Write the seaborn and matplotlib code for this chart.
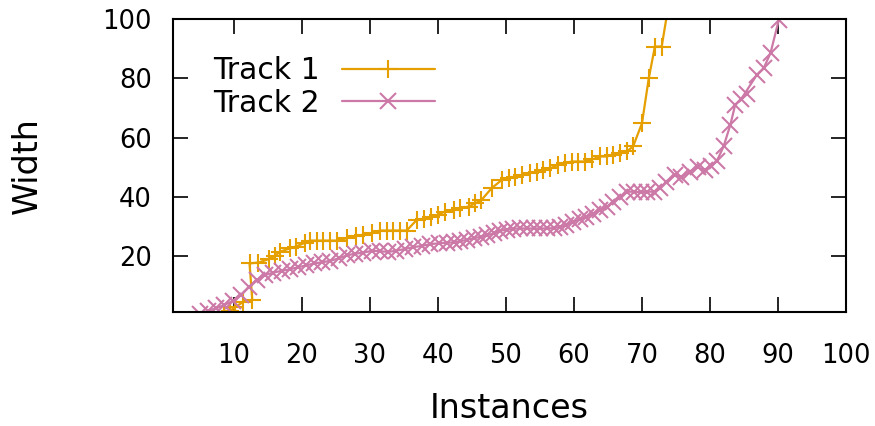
import numpy as np
import pandas as pd
import matplotlib
matplotlib.use("Agg")
import matplotlib.pyplot as plt
import seaborn as sns

# ---- data ----
track1_x = [8.5, 9.4, 10.2, 11.4, 12.7, 12.3, 13.6, 15.1, 16.0, 16.8, 18.3, 19.1, 20.5,
            21.2, 22.2, 23.1, 24.1, 25.1, 26.6, 28.0, 29.0, 30.3, 31.5, 32.5, 33.4, 34.4,
            35.4, 36.9, 37.9, 39.0, 40.0, 41.0, 42.3, 43.3, 44.5, 45.5, 46.4, 47.9, 49.4,
            50.4, 51.3, 52.4, 53.5, 54.5, 55.5, 56.5, 57.7, 58.7, 59.7, 60.6, 61.6, 62.7,
            63.8, 64.8, 65.8, 66.8, 67.8, 68.7, 70.0, 71.0, 71.9, 72.9, 74.0]
track1_y = [0.5, 1.5, 2.7, 4.6, 5.2, 17.5, 17.8, 18.9, 20.0, 21.5, 22.6, 23.2, 24.5,
            25.2, 25.2, 25.2, 25.2, 25.2, 26.0, 26.8, 27.2, 27.7, 28.6, 28.6, 28.6, 28.6,
            28.6, 32.2, 32.6, 33.2, 33.9, 35.0, 35.6, 36.1, 36.7, 37.8, 38.9, 42.9, 45.7,
            46.3, 46.8, 47.4, 48.0, 48.5, 49.1, 49.6, 50.8, 51.3, 51.9, 51.9, 51.9, 52.6,
            53.6, 53.6, 54.2, 54.8, 55.3, 57.0, 64.8, 80.0, 90.7, 90.7, 106.0]

track2_x = [5.0, 6.2, 7.4, 8.6, 9.8, 11.0, 12.2, 13.4, 14.6, 15.8, 17.0, 18.2, 19.4,
            20.6, 21.8, 23.0, 24.2, 25.4, 26.6, 27.8, 29.0, 30.3, 31.5, 32.7, 33.9, 35.2,
            36.4, 37.6, 38.9, 40.1, 41.3, 42.3, 43.3, 44.3, 45.3, 46.3, 47.2, 48.2, 49.1,
            50.1, 51.1, 52.1, 53.1, 54.1, 55.0, 56.0, 57.0, 58.0, 58.9, 59.9, 60.9, 61.8,
            62.8, 63.8, 64.8, 65.8, 66.8, 67.8, 68.8, 69.8, 70.8, 71.7, 72.7, 73.6, 74.8,
            75.8, 77.0, 78.2, 79.2, 80.2, 81.0, 82.0, 83.0, 83.7, 85.4, 84.6, 86.9, 87.9,
            88.9, 90.1]
track2_y = [0.5, 1.5, 2.4, 3.5, 4.8, 6.8, 9.6, 11.9, 13.6, 14.4, 15.0, 15.5, 16.2,
            16.8, 17.5, 17.9, 18.4, 19.2, 20.2, 20.8, 21.1, 21.8, 21.6, 21.4, 21.8, 22.4,
            23.0, 23.4, 24.0, 24.3, 24.5, 24.6, 25.0, 25.5, 26.0, 26.5, 27.0, 27.6, 28.6,
            28.8, 29.2, 29.3, 29.3, 29.3, 29.3, 29.3, 29.4, 29.9, 30.5, 31.6, 32.4, 33.2,
            34.3, 35.4, 36.6, 38.2, 39.8, 41.7, 41.7, 41.5, 41.7, 41.7, 42.8, 44.9, 47.5,
            46.6, 48.5, 50.0, 48.9, 50.5, 52.0, 57.0, 64.3, 71.0, 74.6, 73.0, 81.2, 83.4,
            88.5, 99.5]

labels = ["Track 1", "Track 2"]
x_ticks = list(range(10, 101, 10))
y_ticks = list(range(20, 101, 20))
x_label = "Instances"
y_label = "Width"

df1 = pd.DataFrame({"Instances": track1_x, "Width": track1_y})
df2 = pd.DataFrame({"Instances": track2_x, "Width": track2_y})

sns.set_theme(style="ticks")
plt.rcParams["font.family"] = ["DejaVu Sans"]
plt.rcParams["text.color"] = "black"
plt.rcParams["axes.labelcolor"] = "black"

fig = plt.figure(figsize=(8.75, 4.26), dpi=100)
ax = fig.add_axes([172.7 / 875, 1 - 312.3 / 426, (846 - 172.7) / 875, (312.3 - 19) / 426])

c1 = "#e69f00"
c2 = "#cc79a7"
sns.lineplot(data=df1, x="Instances", y="Width", ax=ax, sort=False, estimator=None,
             color=c1, marker="+", markersize=13, markeredgewidth=1.5,
             markeredgecolor=c1, linewidth=1.6, label=labels[0])
sns.lineplot(data=df2, x="Instances", y="Width", ax=ax, sort=False, estimator=None,
             color=c2, marker="x", markersize=11, markeredgewidth=1.5,
             markeredgecolor=c2, linewidth=1.6, label=labels[1])

ax.set_xlim(1, 100)
ax.set_ylim(1, 100)
ax.set_xticks(x_ticks)
ax.set_yticks(y_ticks)
ax.tick_params(direction="in", length=11, width=1.2, top=True, right=True,
               labelsize=18.5, colors="black", labelcolor="black")
ax.tick_params(axis="x", pad=22)
ax.tick_params(axis="y", pad=15)
for s in ax.spines.values():
    s.set_linewidth(1.5)
    s.set_color("black")
ax.set_xlabel(x_label, fontsize=24, labelpad=16.5, color="black")
ax.set_ylabel(y_label, fontsize=24, labelpad=42, color="black")

leg = ax.legend(loc="upper left", bbox_to_anchor=(213 / 875, 1 - 56 / 426),
                bbox_transform=fig.transFigure, frameon=False, markerfirst=False,
                fontsize=21.5, handlelength=3.1, handletextpad=0.75, labelspacing=0.12,
                borderpad=0, borderaxespad=0)
for t in leg.get_texts():
    t.set_color("black")

fig.savefig("out.png", dpi=100)
